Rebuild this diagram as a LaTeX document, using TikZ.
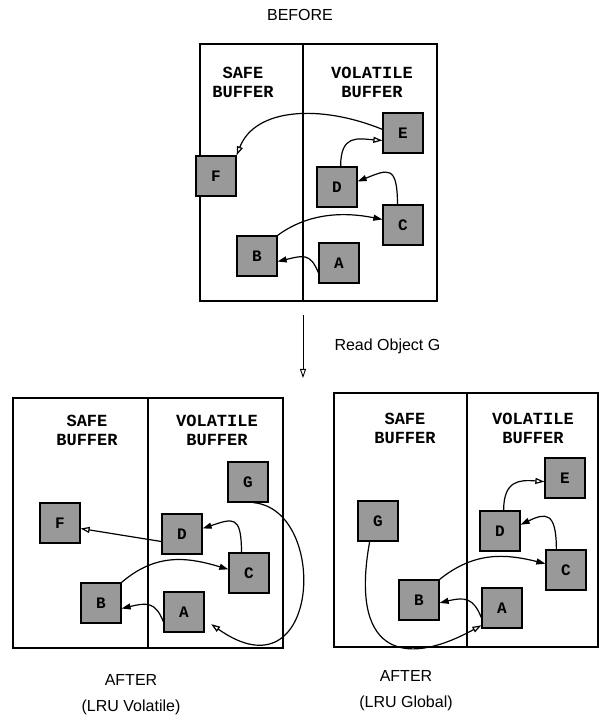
\documentclass[tikz,border=0pt]{standalone}
\usepackage{fontspec}
\setmainfont{Liberation Sans}
\newfontfamily\bufmono{Liberation Mono}
\usetikzlibrary{arrows.meta}
\tikzset{
  obj/.style={draw,line width=1.3pt,fill=black!40,minimum size=40pt,inner sep=0pt,font=\bufmono\bfseries\fontsize{16}{16}\selectfont},
  buflbl/.style={align=center,font=\bufmono\bfseries\fontsize{17}{19}\selectfont},
  caption/.style={align=center,font=\fontsize{16}{26}\selectfont},
  panel/.style={line width=1.2pt},
  link/.style={-{Triangle[length=9pt,width=6pt]},line width=1.2pt},
  olink/.style={-{Triangle[open,length=9pt,width=6pt]},line width=1.2pt},
}

\begin{document}
\begin{tikzpicture}[x=1pt,y=1pt]
    \useasboundingbox (0,0) rectangle (603,716);
    %% Before
    \node[caption] (before) at (300,701) {BEFORE};
    \draw[panel] (200,415) rectangle (437,672);
    \draw[panel] (303,415) -- (303,672);
    \node[buflbl] (safe1) at (243,634) {SAFE\\BUFFER};
    \node[buflbl] (vol1)  at (372,634) {VOLATILE\\BUFFER};
    \node[obj] (E1) at (403,583) {E};
    \node[obj] (F1) at (216,540) {F};
    \node[obj] (D1) at (337,529) {D};
    \node[obj] (C1) at (403,491) {C};
    \node[obj] (B1) at (257,460) {B};
    \node[obj] (A1) at (339,453) {A};
    \draw[olink] (E1.170) .. controls (320,612) and (255,608) .. (F1.north east);
    \draw[olink] (D1.80) .. controls +(0,32) and +(-25,2) .. (E1.200);
    \draw[link] (C1.105) .. controls +(0,40) and +(30,12) .. (D1.15);
    \draw[link] (B1.north east) .. controls +(30,22) and +(-40,8) .. (C1.165);
    \draw[link] (A1.205) .. controls +(-8,20) and +(25,6) .. (B1.-15);
    %% Read step
    \coordinate (rd1) at (303,401);
    \coordinate (rd2) at (303,338);
    \draw[olink,line width=0.9pt] (rd1) -- (rd2);
    \node[caption,anchor=west] (rdlbl) at (331,370) {Read Object G};
    %% After, LRU volatile
    \draw[panel] (13,68) rectangle (283,318);
    \draw[panel] (148,68) -- (148,318);
    \node[buflbl] (safe2) at (87,286) {SAFE\\BUFFER};
    \node[buflbl] (vol2)  at (217,286) {VOLATILE\\BUFFER};
    \node[obj] (G2) at (248,234) {G};
    \node[obj] (F2) at (60,193) {F};
    \node[obj] (D2) at (182,182) {D};
    \node[obj] (C2) at (249,143) {C};
    \node[obj] (B2) at (101,113) {B};
    \node[obj] (A2) at (184,104) {A};
    \draw[olink] (D2.200) -- (F2.-15);
    \draw[link] (C2.110) .. controls +(0,38) and +(30,10) .. (D2.15);
    \draw[link] (B2.north east) .. controls +(35,30) and +(-40,12) .. (C2.170);
    \draw[link] (A2.205) .. controls +(-8,20) and +(25,6) .. (B2.-15);
    \draw[olink,shorten >=8pt] (G2.-75) .. controls (330,206) and (320,15) .. (A2.-20);
    \node[caption] (lruvol) at (131,21) {AFTER\\(LRU Volatile)};
    %% After, LRU global
    \draw[panel] (334,69) rectangle (598,323);
    \draw[panel] (467,69) -- (467,323);
    \node[buflbl] (safe3) at (405,288) {SAFE\\BUFFER};
    \node[buflbl] (vol3)  at (533,288) {VOLATILE\\BUFFER};
    \node[obj] (E3) at (565,238) {E};
    \node[obj] (G3) at (378,195) {G};
    \node[obj] (D3) at (500,185) {D};
    \node[obj] (C3) at (566,146) {C};
    \node[obj] (B3) at (419,116) {B};
    \node[obj] (A3) at (502,108) {A};
    \draw[olink] (D3.80) .. controls +(0,30) and +(-25,2) .. (E3.-170);
    \draw[link] (C3.115) .. controls +(0,38) and +(25,12) .. (D3.17);
    \draw[link] (B3.north east) .. controls +(35,28) and +(-40,10) .. (C3.163);
    \draw[link] (A3.205) .. controls +(-8,20) and +(25,6) .. (B3.-8);
    \draw[olink] (G3.-112) .. controls (350,66) and (400,46) .. (A3.-140);
    \node[caption] (lruglob) at (406,25) {AFTER\\(LRU Global)};
\end{tikzpicture}
\end{document}
